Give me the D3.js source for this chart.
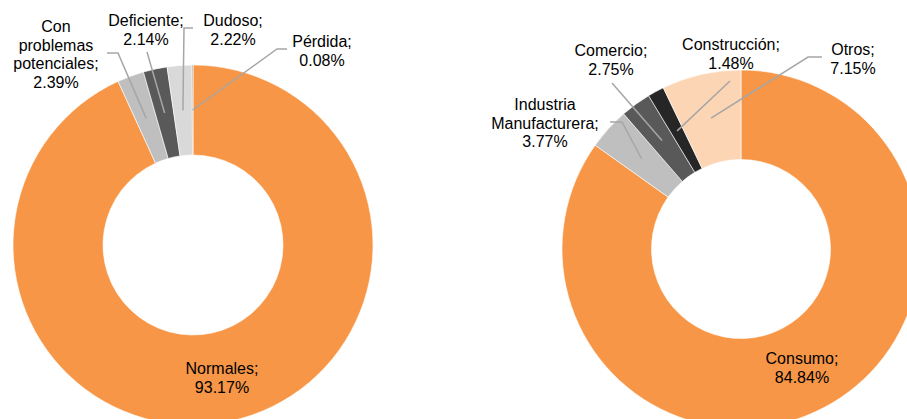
<!DOCTYPE html>
<html>
<head>
<meta charset="utf-8">
<script src="https://cdn.jsdelivr.net/npm/d3@7"></script>
<style>
  body { margin: 0; background: #fff; }
  svg { display: block; }
</style>
</head>
<body>
<svg id="svg" width="907" height="419"></svg>
<script>
// left donut: cartera por calificacion
const cartera = ["Normales", "Con problemas potenciales", "Deficiente", "Dudoso", "Pérdida"];
const carteraPct = [93.17, 2.39, 2.14, 2.22, 0.08];
const carteraLines = [["Normales;"], ["Con", "problemas", "potenciales;"], ["Deficiente;"], ["Dudoso;"], ["Pérdida;"]];
const carteraColors = ["#F79646", "#BFBFBF", "#595959", "#D9D9D9", "#7F7F7F"];

// right donut: cartera por sector
const sectores = ["Consumo", "Industria Manufacturera", "Comercio", "Construcción", "Otros"];
const sectoresPct = [84.84, 3.77, 2.75, 1.48, 7.15];
const sectoresLines = [["Consumo;"], ["Industria", "Manufacturera;"], ["Comercio;"], ["Construcción;"], ["Otros;"]];
const sectoresColors = ["#F79646", "#BFBFBF", "#595959", "#262626", "#FCD5B5"];

// label layout: x = text center, y = first baseline, lead = [x0, y0, elbowX] or null
const carteraLabels = [
    {x: 222, y: 374, lead: null},
    {x: 56, y: 32, lead: [107, 53, 118]},
    {x: 146, y: 26, lead: [147, 52, null]},
    {x: 233, y: 26, lead: [193, 28, 184]},
    {x: 322, y: 47, lead: [287, 49, 277]}
];
const sectoresLabels = [
    {x: 802, y: 364, lead: null},
    {x: 545, y: 110, lead: [610, 122, 622]},
    {x: 611, y: 56, lead: [612, 83, null]},
    {x: 731, y: 50, lead: [730, 81, null]},
    {x: 853, y: 55, lead: [822, 57, 808]}
];

const svg = d3.select("#svg");
const fmt = v => v.toFixed(2) + "%";

function donut(cx, cy, rOut, rIn, names, values, lines, colors, labels)
{
    let pie = d3.pie().sort(null).value(d => d.v);
    let data = names.map((n, i) => ({name: n, v: values[i], lines: lines[i], color: colors[i], lab: labels[i]}));
    let arcs = pie(data);
    let arc = d3.arc().innerRadius(rIn).outerRadius(rOut);
    let g = svg.append("g").attr("transform", "translate(" + cx + "," + cy + ")");

    g.selectAll("path.slice").data(arcs).enter().append("path")
        .attr("class", "slice")
        .attr("d", arc)
        .attr("fill", d => d.data.color)
        .attr("stroke", "#fff")
        .attr("stroke-width", 0.6);

    // leader lines to the slice centroid
    arcs.forEach(d => {
        let L = d.data.lab;
        if (!L.lead) return;
        let c = arc.centroid(d);
        let pts = [[L.lead[0], L.lead[1]]];
        if (L.lead[2] != null) pts.push([L.lead[2], L.lead[1]]);
        pts.push([cx + c[0], cy + c[1]]);
        svg.append("path")
            .attr("d", d3.line()(pts))
            .attr("fill", "none")
            .attr("stroke", "#A6A6A6")
            .attr("stroke-width", 1.5);
    });

    arcs.forEach(d => {
        let L = d.data.lab;
        let t = svg.append("text")
            .attr("text-anchor", "middle")
            .style("font-family", "'Liberation Sans', Arial, sans-serif")
            .style("font-size", "16px")
            .style("fill", "#000");
        let all = d.data.lines.concat([fmt(d.data.v)]);
        all.forEach((s, i) => {
            t.append("tspan").attr("x", L.x).attr("y", L.y + i * 18.5).text(s);
        });
    });
}

donut(193, 245, 180, 90, cartera, carteraPct, carteraLines, carteraColors, carteraLabels);
donut(741, 249, 179, 89.5, sectores, sectoresPct, sectoresLines, sectoresColors, sectoresLabels);
</script>
</body>
</html>
